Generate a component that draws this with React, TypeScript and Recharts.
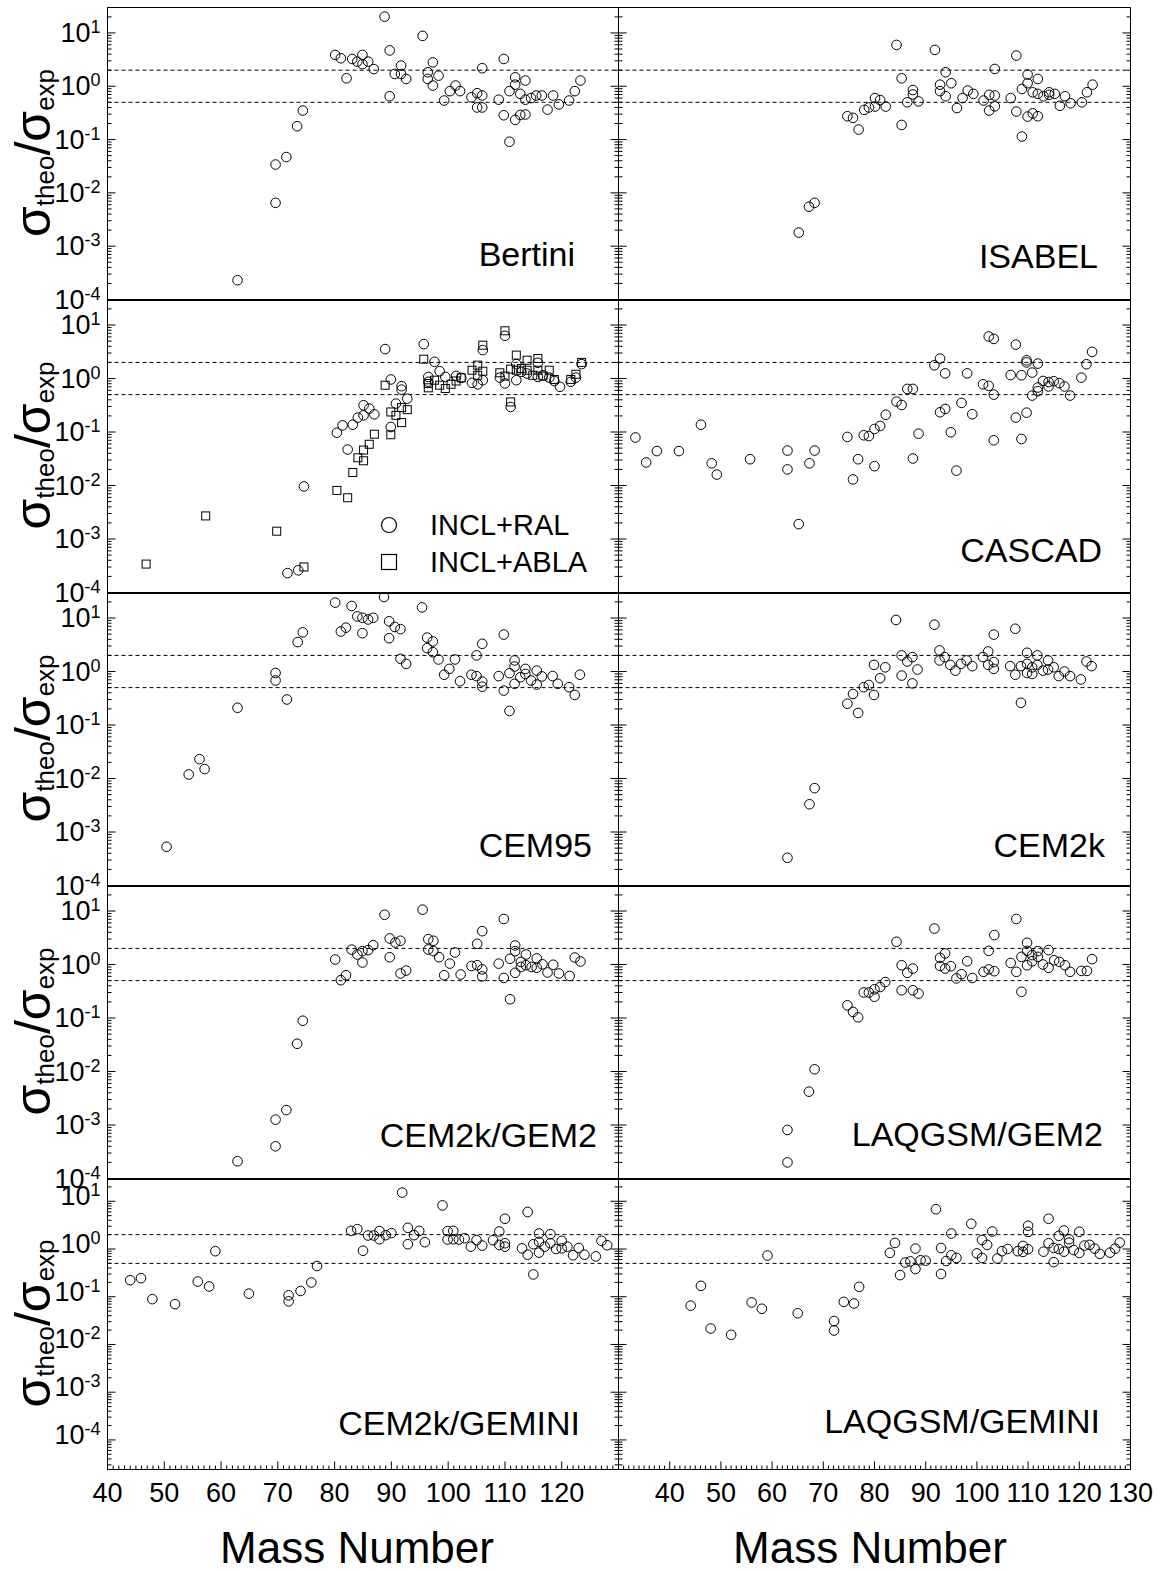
import React from "react";
import { ScatterChart, Scatter, XAxis, YAxis, ReferenceLine } from "recharts";

type P = [number, number];

// sigma_theo / sigma_exp versus mass number
const bertini: P[] = [
  [62.9, 2.3e-4], [69.6, 0.034], [69.6, 0.0065], [71.5, 0.047], [73.4, 0.178], [74.4, 0.35],
  [80.1, 3.87], [81.1, 3.35], [82.1, 1.41], [83.1, 3.25], [84.0, 2.9], [84.9, 3.87], [84.9, 2.6],
  [85.9, 2.9], [86.9, 2.1], [88.8, 20.2], [89.7, 4.7], [89.7, 0.65], [90.6, 1.7], [91.7, 2.44],
  [91.7, 1.7], [92.6, 1.37], [95.5, 8.8], [96.4, 1.83], [96.4, 1.37], [97.3, 2.8], [97.3, 1.03],
  [98.3, 1.58], [99.3, 0.54], [100.3, 0.81], [101.3, 1.03], [102.1, 0.81], [104.1, 0.62],
  [105.1, 0.74], [105.1, 0.4], [106.0, 2.18], [106.0, 0.67], [106.0, 0.4], [108.9, 0.56],
  [109.8, 3.25], [109.8, 0.286], [110.8, 0.81], [110.8, 0.091], [111.8, 1.47], [111.8, 1.07],
  [111.8, 0.234], [112.7, 0.72], [112.7, 0.29], [113.6, 1.28], [113.6, 0.56], [113.6, 0.295],
  [114.6, 0.6], [115.5, 0.67], [116.5, 0.67], [117.5, 0.365], [118.5, 0.67], [119.5, 0.457],
  [121.3, 0.54], [122.3, 0.81], [123.3, 1.28],
];

const isabel: P[] = [
  [65.2, 0.0018], [67.2, 0.0055], [68.3, 0.0065], [74.7, 0.274], [75.8, 0.255], [76.9, 0.154],
  [78.0, 0.36], [78.9, 0.4], [80.1, 0.416], [80.1, 0.6], [81.1, 0.55], [82.2, 0.416], [84.3, 5.96],
  [85.3, 1.41], [85.3, 0.188], [86.4, 0.5], [87.5, 0.85], [87.5, 0.7], [88.6, 0.52], [91.8, 4.8],
  [92.8, 1.07], [92.8, 0.81], [93.9, 1.83], [93.9, 0.65], [95.0, 1.14], [96.1, 0.39], [97.2, 0.6],
  [98.2, 0.83], [99.3, 0.72], [101.3, 0.54], [102.4, 0.69], [102.4, 0.35], [103.5, 2.11],
  [103.5, 0.67], [103.5, 0.42], [106.6, 0.6], [107.7, 3.76], [107.7, 0.335], [108.8, 0.114],
  [108.8, 0.89], [109.9, 1.66], [109.9, 1.14], [109.9, 0.27], [110.9, 0.77], [110.9, 0.31],
  [111.9, 1.37], [111.9, 0.72], [111.9, 0.274], [113.0, 0.65], [114.1, 0.77], [114.1, 0.69],
  [115.2, 0.72], [116.2, 0.43], [117.2, 0.65], [118.3, 0.48], [120.5, 0.5], [121.5, 0.77],
  [122.6, 1.07],
];

const inclRal: P[] = [
  [71.7, 2.3e-4], [73.6, 2.6e-4], [74.6, 0.0096], [80.4, 0.097], [81.4, 0.133], [82.3, 0.047],
  [83.2, 0.137], [84.1, 0.186], [85.1, 0.316], [85.1, 0.205], [86.1, 0.274], [87.0, 0.214],
  [88.9, 3.55], [89.9, 0.96], [89.9, 0.124], [90.8, 0.34], [91.8, 0.72], [91.8, 0.62], [92.8, 0.42],
  [95.7, 4.4], [96.5, 1.07], [96.5, 0.87], [97.6, 2.05], [98.5, 1.37], [99.5, 1.07], [101.4, 1.12],
  [102.3, 1.03], [104.2, 0.83], [105.2, 0.78], [106.1, 3.4], [106.1, 0.93], [109.1, 1.04],
  [110.0, 6.3], [110.0, 0.81], [111.0, 0.294], [112.0, 0.93], [112.0, 1.86], [112.9, 1.33],
  [113.9, 1.24], [115.8, 1.97], [115.8, 1.07], [116.7, 1.15], [117.8, 1.04], [118.7, 0.9],
  [119.7, 0.7], [121.6, 0.87], [122.5, 1.04], [123.5, 1.86],
];

const inclAbla: P[] = [
  [46.8, 3.4e-4], [57.3, 0.0027], [69.8, 0.0014], [74.6, 3.0e-4], [80.4, 0.0081], [82.3, 0.0059],
  [83.2, 0.0175], [84.1, 0.033], [85.1, 0.029], [85.1, 0.046], [86.1, 0.059], [87.0, 0.091],
  [88.9, 0.75], [89.9, 0.237], [89.9, 0.089], [90.8, 0.205], [91.8, 0.286], [91.8, 0.15],
  [92.8, 0.262], [95.7, 2.3], [96.5, 0.81], [96.5, 0.67], [97.6, 0.93], [98.5, 0.75], [99.5, 0.65],
  [100.5, 0.78], [101.4, 0.9], [102.3, 1.03], [104.2, 1.43], [105.2, 1.78], [105.2, 1.15],
  [106.1, 4.2], [106.1, 1.37], [109.1, 1.28], [110.0, 7.8], [110.0, 1.11], [111.0, 0.365],
  [111.0, 1.5], [112.0, 2.74], [112.0, 1.43], [112.9, 1.54], [113.9, 2.2], [113.9, 1.43],
  [114.9, 1.15], [115.8, 2.37], [115.8, 1.43], [116.7, 1.11], [117.8, 1.43], [118.7, 0.96],
  [121.6, 0.96], [122.5, 1.2], [123.5, 2.0],
];

const cascad: P[] = [
  [33.3, 0.079], [35.4, 0.027], [37.5, 0.044], [41.8, 0.044], [46.1, 0.137], [48.2, 0.026],
  [49.2, 0.016], [55.7, 0.031], [63.0, 0.045], [63.0, 0.02], [65.2, 0.0019], [67.3, 0.026],
  [68.3, 0.045], [74.7, 0.081], [75.8, 0.013], [76.8, 0.031], [77.9, 0.087], [78.9, 0.084],
  [80.0, 0.114], [80.0, 0.023], [81.1, 0.13], [82.2, 0.21], [84.3, 0.37], [85.3, 0.32],
  [86.4, 0.64], [87.5, 0.64], [87.5, 0.032], [88.6, 0.093], [91.7, 1.77], [92.8, 2.36],
  [92.8, 0.234], [93.8, 1.25], [93.8, 0.27], [94.9, 0.099], [96.0, 0.019], [97.0, 0.35],
  [98.1, 1.25], [99.1, 0.215], [101.2, 0.78], [102.3, 6.1], [102.3, 0.73], [103.3, 5.5],
  [103.3, 0.5], [103.3, 0.07], [106.6, 1.16], [107.6, 4.3], [107.6, 0.186], [108.7, 1.15],
  [108.7, 0.074], [109.7, 2.19], [109.7, 2.0], [109.7, 0.23], [110.8, 1.29], [110.8, 0.48],
  [111.9, 1.9], [111.9, 0.68], [111.9, 0.58], [112.9, 0.9], [114.0, 0.86], [114.0, 0.71],
  [115.0, 0.89], [116.1, 0.82], [117.1, 0.71], [118.2, 0.48], [120.4, 1.04], [121.4, 1.85],
  [122.5, 3.15],
];

const cem95: P[] = [
  [50.4, 5.3e-4], [54.3, 0.0119], [56.2, 0.023], [57.1, 0.015], [62.9, 0.21], [69.6, 0.94],
  [69.6, 0.68], [71.6, 0.3], [73.5, 3.55], [74.4, 5.4], [80.1, 19.4], [81.1, 5.6], [82.0, 6.6],
  [83.0, 16.8], [84.0, 10.7], [84.9, 10.1], [84.9, 5.2], [85.9, 9.4], [86.8, 10.1], [88.7, 24.7],
  [89.6, 8.7], [89.6, 4.2], [90.6, 6.8], [91.6, 6.2], [91.6, 1.73], [92.6, 1.39], [95.4, 15.8],
  [96.3, 4.3], [96.3, 2.74], [97.3, 3.65], [97.3, 2.3], [98.3, 1.68], [99.3, 0.87], [100.2, 1.12],
  [101.2, 1.68], [102.1, 0.66], [104.1, 0.87], [105.0, 2.0], [105.0, 0.82], [106.0, 3.3],
  [106.0, 0.65], [106.0, 0.52], [108.9, 0.82], [109.8, 4.9], [109.8, 0.44], [110.8, 0.93],
  [110.8, 0.183], [111.7, 1.61], [111.7, 1.24], [111.7, 0.59], [112.7, 0.78], [113.6, 1.12],
  [113.6, 0.9], [114.6, 0.68], [115.6, 1.04], [115.6, 0.57], [116.5, 0.81], [118.4, 0.82],
  [119.3, 0.59], [121.3, 0.51], [122.3, 0.365], [123.2, 0.87],
];

const cem2k: P[] = [
  [63.0, 3.3e-4], [67.3, 0.0033], [68.3, 0.0066], [74.7, 0.25], [75.8, 0.38], [76.8, 0.168],
  [77.9, 0.51], [78.9, 0.56], [79.9, 0.365], [79.9, 1.33], [81.1, 0.75], [82.1, 1.2], [84.2, 9.2],
  [85.3, 2.0], [85.3, 0.84], [86.4, 1.54], [87.4, 1.86], [87.4, 0.6], [88.4, 1.09], [91.7, 7.5],
  [92.7, 2.48], [92.7, 1.61], [93.7, 1.86], [94.8, 1.33], [95.8, 1.04], [96.9, 1.39], [98.0, 1.61],
  [99.1, 1.26], [101.2, 1.86], [102.2, 2.37], [102.2, 1.33], [103.3, 4.9], [103.3, 1.5],
  [103.3, 1.12], [106.5, 1.26], [107.5, 6.3], [107.5, 0.87], [108.6, 0.26], [108.6, 1.26],
  [109.8, 2.24], [109.8, 1.39], [109.8, 0.94], [110.8, 1.2], [110.8, 0.9], [111.8, 2.0],
  [111.8, 1.33], [112.9, 1.04], [113.9, 1.61], [113.9, 1.09], [115.0, 1.2], [116.0, 0.82],
  [117.1, 1.0], [118.2, 0.82], [120.3, 0.71], [121.4, 1.54], [122.4, 1.26],
];

const cem2kGem2: P[] = [
  [62.9, 2.1e-4], [69.6, 4.0e-4], [69.6, 0.00126], [71.5, 0.0019], [73.4, 0.033], [74.4, 0.089],
  [80.1, 1.24], [81.1, 0.51], [82.0, 0.63], [83.0, 1.9], [84.0, 1.54], [84.9, 1.78], [84.9, 1.09],
  [85.9, 1.86], [86.8, 2.3], [88.8, 8.5], [89.7, 3.07], [89.7, 1.37], [90.7, 2.58], [91.6, 2.78],
  [91.6, 0.68], [92.6, 0.77], [95.5, 10.6], [96.5, 2.98], [96.5, 1.91], [97.4, 2.78], [97.4, 1.78],
  [98.4, 1.37], [99.3, 0.63], [100.3, 1.04], [101.2, 1.68], [102.2, 0.65], [104.1, 0.94],
  [105.1, 2.44], [105.1, 0.97], [106.0, 4.2], [106.0, 0.81], [106.0, 0.6], [108.9, 1.04],
  [109.8, 7.1], [109.8, 0.56], [110.9, 1.28], [110.9, 0.224], [111.8, 2.27], [111.8, 1.78],
  [111.8, 0.7], [112.8, 1.12], [112.8, 0.9], [113.7, 1.54], [113.7, 0.97], [114.7, 0.9],
  [115.6, 1.3], [115.6, 0.87], [116.6, 1.01], [117.5, 0.71], [118.5, 0.99], [119.5, 0.68],
  [121.4, 0.61], [122.3, 1.35], [123.3, 1.14],
];

const laqgsmGem2: P[] = [
  [63.0, 2.0e-4], [63.0, 8.1e-4], [67.2, 0.0042], [68.3, 0.011], [74.7, 0.173], [75.8, 0.13],
  [76.8, 0.103], [77.9, 0.3], [78.9, 0.3], [80.0, 0.25], [80.0, 0.345], [81.1, 0.38], [82.1, 0.47],
  [84.3, 2.66], [85.3, 0.97], [85.3, 0.33], [86.4, 0.7], [87.5, 0.84], [87.5, 0.33], [88.6, 0.286],
  [91.7, 4.7], [92.8, 1.33], [92.8, 0.94], [93.8, 1.61], [93.8, 0.84], [94.9, 0.93], [96.0, 0.55],
  [97.0, 0.66], [98.1, 1.15], [99.1, 0.56], [101.3, 0.73], [102.3, 1.8], [102.3, 0.81],
  [103.4, 3.55], [103.4, 0.75], [106.6, 1.07], [107.7, 7.1], [107.7, 0.73], [108.7, 1.39],
  [108.7, 0.31], [109.8, 2.55], [109.8, 1.8], [109.8, 0.97], [110.8, 1.5], [110.8, 1.15],
  [111.9, 1.78], [111.9, 1.39], [112.9, 1.0], [114.0, 1.86], [114.0, 0.87], [115.1, 1.2],
  [116.1, 1.12], [117.2, 0.97], [118.2, 0.73], [120.4, 0.76], [121.5, 0.76], [122.5, 1.26],
];

const cem2kGemini: P[] = [
  [44.0, 0.222], [45.9, 0.245], [47.9, 0.089], [51.9, 0.07], [55.9, 0.208], [57.9, 0.164],
  [59.0, 0.9], [64.9, 0.116], [71.9, 0.107], [71.9, 0.08], [74.0, 0.132], [75.9, 0.199],
  [76.9, 0.44], [82.9, 2.4], [84.0, 2.61], [85.0, 0.92], [85.9, 1.92], [86.9, 1.92], [87.9, 2.37],
  [87.9, 1.6], [89.0, 1.95], [90.0, 2.15], [91.9, 15.2], [92.9, 2.78], [92.9, 1.26], [94.0, 1.95],
  [94.9, 2.4], [95.9, 1.39], [99.0, 8.2], [99.9, 2.37], [99.9, 1.58], [100.9, 2.4], [100.9, 1.6],
  [101.9, 1.58], [102.9, 1.68], [104.0, 1.12], [105.0, 1.53], [106.0, 1.18], [107.9, 1.53],
  [109.0, 2.33], [109.0, 1.22], [110.0, 4.3], [110.0, 1.32], [110.0, 1.12], [113.0, 1.03],
  [114.0, 5.96], [114.0, 0.76], [115.0, 1.26], [115.0, 0.293], [116.0, 2.11], [116.0, 1.41],
  [116.0, 0.84], [117.0, 1.12], [118.0, 2.05], [118.0, 1.32], [119.0, 1.0], [120.0, 1.48],
  [120.0, 1.03], [121.0, 1.12], [122.0, 0.74], [123.0, 1.05], [124.0, 0.76], [126.0, 0.7],
  [127.0, 1.48], [128.0, 1.2],
];

const laqgsmGemini: P[] = [
  [44.1, 0.065], [46.1, 0.169], [48.0, 0.0216], [52.0, 0.0159], [56.0, 0.076], [58.0, 0.056],
  [59.1, 0.73], [65.0, 0.045], [72.1, 0.031], [72.1, 0.0196], [74.0, 0.078], [76.0, 0.072],
  [77.0, 0.161], [83.0, 0.83], [84.0, 1.34], [85.0, 0.284], [86.0, 0.52], [87.0, 0.55], [88.0, 1.02],
  [88.0, 0.38], [89.0, 0.58], [90.0, 0.57], [92.0, 6.8], [93.0, 1.05], [93.0, 0.3], [94.0, 0.56],
  [95.0, 2.11], [95.0, 0.74], [96.0, 0.65], [98.9, 3.38], [100.0, 0.81], [101.0, 1.55],
  [101.0, 0.65], [102.0, 1.22], [103.0, 2.33], [104.0, 0.63], [104.9, 0.9], [106.0, 1.0],
  [108.0, 0.9], [109.0, 1.16], [109.0, 0.87], [110.0, 3.07], [110.0, 2.29], [110.0, 0.99],
  [113.0, 0.88], [114.0, 4.3], [114.0, 1.32], [115.0, 1.05], [115.0, 0.53], [116.0, 1.89],
  [116.0, 1.0], [117.0, 2.44], [117.0, 0.88], [118.0, 1.6], [118.0, 1.36], [118.9, 0.95],
  [120.0, 2.29], [120.0, 0.83], [121.0, 1.18], [122.0, 1.22], [123.0, 1.02], [124.0, 0.79],
  [126.0, 0.84], [127.0, 1.02], [127.9, 1.36],
];

const panelNames = [
  "Bertini", "ISABEL", "", "CASCAD", "CEM95", "CEM2k",
  "CEM2k/GEM2", "LAQGSM/GEM2", "CEM2k/GEMINI", "LAQGSM/GEMINI",
];
const legendNames = ["INCL+RAL", "INCL+ABLA"];
const factorLines = [2, 0.5];

const FONT = "'Liberation Sans', Arial, sans-serif";
const ROWS = [7, 299, 592, 885, 1178, 1469];
const COLS = [107, 618, 1130];
const FRAME_DOMAIN = [41, 135];

const toPts = (d: P[]) => d.map(([a, r]) => ({ a, r }));

function logTicks(lo: number, hi: number) {
  const out: number[] = [];
  for (let e = -6; e <= 2; e++) {
    for (let m = 1; m <= 9; m++) {
      const v = m * Math.pow(10, e);
      if (v >= lo * 0.999 && v <= hi * 1.001) out.push(v);
    }
  }
  return out;
}
function range(a: number, b: number) {
  const out: number[] = [];
  for (let i = a; i <= b; i++) out.push(i);
  return out;
}
function decadeOf(v: number) {
  const e = Math.floor(Math.log10(v) + 1e-9);
  const m = Math.round(v / Math.pow(10, e));
  return { e, m };
}

const Circle = (p: any) =>
  p.cx == null ? <g /> : <circle cx={p.cx} cy={p.cy} r={4.8} fill="none" stroke="#000" strokeWidth={1} />;
const Square = (p: any) =>
  p.cx == null ? <g /> : <rect x={p.cx - 4} y={p.cy - 4} width={8} height={8} fill="none" stroke="#000" strokeWidth={1} />;

function Panel({ row, col, series }: { row: number; col: number; series: { data: P[]; shape: any }[] }) {
  const last = row === 4;
  const plotLeft = COLS[col];
  const plotW = COLS[col + 1] - COLS[col];
  const top = ROWS[row];
  const h = ROWS[row + 1] - top;
  const ml = col === 0 ? 107 : 20;
  const mr = col === 0 ? 15 : 32;
  const mt = 20;
  const mb = last ? 50 : 20;
  const yDom = last ? [2.4e-5, 30] : [1e-4, 30];
  const yTicks = logTicks(yDom[0], yDom[1]);
  const xDom = col === 0 ? [40, 130] : [30, 130];
  const frameTicks = range(FRAME_DOMAIN[0], FRAME_DOMAIN[1]);
  const dataTicks = range(xDom[0], xDom[1]);
  const lift = last ? 5 : 0;

  const yLeftTick = (p: any) => {
    const { e, m } = decadeOf(p.payload.value);
    const major = m === 1;
    return (
      <g>
        <line x1={p.x} x2={p.x + (major ? 8 : 4)} y1={p.y} y2={p.y} stroke="#000" />
        {col === 0 && major && (
          <text x={p.x - 7} y={p.y + 9 - lift} textAnchor="end" fontSize={27} fontFamily={FONT} fill="#000">
            10<tspan dy={-9} fontSize={18}>{e}</tspan>
          </text>
        )}
      </g>
    );
  };
  const yRightTick = (p: any) => {
    const { m } = decadeOf(p.payload.value);
    return <line x1={p.x} x2={p.x - (m === 1 ? 8 : 4)} y1={p.y} y2={p.y} stroke="#000" />;
  };
  const xTopTick = (p: any) => {
    const major = p.payload.value % 10 === 0;
    return <line x1={p.x} x2={p.x} y1={p.y} y2={p.y + (major ? 8 : 4)} stroke="#000" />;
  };
  const xBottomTick = (p: any) => {
    const major = p.payload.value % 10 === 0;
    return <line x1={p.x} x2={p.x} y1={p.y} y2={p.y - (major ? 8 : 4)} stroke="#000" />;
  };
  const xLabelTick = (p: any) => {
    const v = p.payload.value;
    const major = v % 10 === 0;
    const show = major && v >= 40 && (col === 1 || v <= 120);
    return (
      <g>
        <line x1={p.x} x2={p.x} y1={p.y} y2={p.y - (major ? 8 : 4)} stroke="#000" />
        {show && (
          <text x={p.x} y={p.y + 32} textAnchor="middle" fontSize={27} fontFamily={FONT} fill="#000">
            {v}
          </text>
        )}
      </g>
    );
  };

  // recharts skips 0-sized axes, so each visible axis is 1px thick; the half pixel keeps frame lines crisp
  const axisProps = {
    interval: 0 as const,
    tickSize: 0,
    tickMargin: 0,
    tickLine: false,
    allowDataOverflow: true,
    axisLine: { stroke: "#000" },
  };

  return (
    <div style={{ position: "absolute", left: plotLeft - ml, top: top - mt }}>
      <ScatterChart
        width={plotW + ml + mr}
        height={h + mt + mb}
        margin={{ top: mt - 0.5, right: mr - 1.5, bottom: mb - 1.5, left: ml - 0.5 }}
      >
        <XAxis
          {...axisProps}
          xAxisId="d"
          type="number"
          dataKey="a"
          domain={xDom}
          hide={!last}
          height={1}
          ticks={dataTicks}
          tick={xLabelTick}
        />
        {!last && (
          <XAxis
            {...axisProps}
            xAxisId="fb"
            type="number"
            domain={FRAME_DOMAIN}
            height={1}
            ticks={frameTicks}
            tick={xBottomTick}
          />
        )}
        <XAxis
          {...axisProps}
          xAxisId="ft"
          orientation="top"
          type="number"
          domain={FRAME_DOMAIN}
          height={1}
          ticks={frameTicks}
          tick={xTopTick}
        />
        <YAxis
          {...axisProps}
          yAxisId="y"
          type="number"
          dataKey="r"
          scale="log"
          domain={yDom}
          width={1}
          ticks={yTicks}
          tick={yLeftTick}
        />
        <YAxis
          {...axisProps}
          yAxisId="r"
          orientation="right"
          type="number"
          scale="log"
          domain={yDom}
          width={1}
          ticks={yTicks}
          tick={yRightTick}
        />
        <Scatter xAxisId="ft" yAxisId="r" data={[]} isAnimationActive={false} />
        {!last && <Scatter xAxisId="fb" yAxisId="r" data={[]} isAnimationActive={false} />}
        {factorLines.map((f) => (
          <ReferenceLine
            key={f}
            xAxisId="d"
            yAxisId="y"
            y={f}
            stroke="#000"
            strokeWidth={1}
            strokeDasharray="4 3"
          />
        ))}
        {series.map((s, i) => (
          <Scatter
            key={i}
            xAxisId="d"
            yAxisId="y"
            data={toPts(s.data)}
            shape={s.shape}
            isAnimationActive={false}
          />
        ))}
      </ScatterChart>
    </div>
  );
}

function YTitle({ cy }: { cy: number }) {
  return (
    <text transform={`translate(50,${cy}) rotate(-90)`} textAnchor="middle" fontFamily={FONT} fill="#000">
      <tspan fontSize={50}>σ</tspan>
      <tspan fontSize={26} dy={4}>theo</tspan>
      <tspan fontSize={50} dy={-4}>/σ</tspan>
      <tspan fontSize={26} dy={4}>exp</tspan>
    </text>
  );
}

export default function App() {
  const panels = [
    [{ data: bertini, shape: Circle }],
    [{ data: isabel, shape: Circle }],
    [
      { data: inclAbla, shape: Square },
      { data: inclRal, shape: Circle },
    ],
    [{ data: cascad, shape: Circle }],
    [{ data: cem95, shape: Circle }],
    [{ data: cem2k, shape: Circle }],
    [{ data: cem2kGem2, shape: Circle }],
    [{ data: laqgsmGem2, shape: Circle }],
    [{ data: cem2kGemini, shape: Circle }],
    [{ data: laqgsmGemini, shape: Circle }],
  ];
  const labelPos = [
    [575, 266], [1098, 268], [0, 0], [1102, 562], [592, 857],
    [1105, 857], [597, 1147], [1103, 1146], [580, 1435], [1100, 1433],
  ];
  return (
    <div style={{ position: "absolute", left: 0, top: 0, width: 1164, height: 1571, background: "#fff" }}>
      {panels.map((s, i) => (
        <Panel key={i} row={Math.floor(i / 2)} col={i % 2} series={s} />
      ))}
      <svg width={1164} height={1571} style={{ position: "absolute", left: 0, top: 0, pointerEvents: "none" }}>
        {panelNames.map((n, i) =>
          n ? (
            <text key={n} x={labelPos[i][0]} y={labelPos[i][1]} textAnchor="end" fontSize={34} fontFamily={FONT} fill="#000">
              {n}
            </text>
          ) : null
        )}
        <circle cx={389} cy={525} r={7.5} fill="none" stroke="#000" strokeWidth={1.2} />
        <text x={430} y={535} fontSize={29} fontFamily={FONT} fill="#000">{legendNames[0]}</text>
        <rect x={381.5} y={554.5} width={15} height={15} fill="none" stroke="#000" strokeWidth={1.2} />
        <text x={430} y={572} fontSize={29} fontFamily={FONT} fill="#000">{legendNames[1]}</text>
        {[0, 1, 2, 3, 4].map((r) => (
          <YTitle key={r} cy={(ROWS[r] + ROWS[r + 1]) / 2} />
        ))}
        <text x={357} y={1563} textAnchor="middle" fontSize={44} fontFamily={FONT} fill="#000">Mass Number</text>
        <text x={870} y={1563} textAnchor="middle" fontSize={44} fontFamily={FONT} fill="#000">Mass Number</text>
      </svg>
    </div>
  );
}
